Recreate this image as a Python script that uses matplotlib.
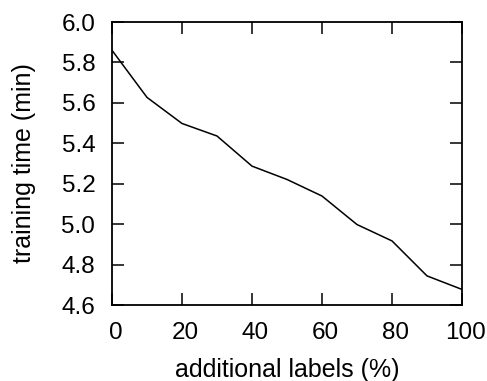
import matplotlib
matplotlib.use("Agg")
import matplotlib.pyplot as plt
from matplotlib.transforms import ScaledTranslation

# extra labels (%) vs. training time in minutes
additional_labels = [0, 10, 20, 30, 40, 50, 60, 70, 80, 90, 100]
training_time = [5.86, 5.627, 5.498, 5.436, 5.287, 5.221, 5.139, 4.998, 4.917, 4.744, 4.677]

x_ticks = [0, 20, 40, 60, 80, 100]
y_ticks = [4.6, 4.8, 5.0, 5.2, 5.4, 5.6, 5.8, 6.0]

plt.rcParams['font.family'] = ['Liberation Sans', 'DejaVu Sans']

fig = plt.figure(figsize=(4.87, 3.81), dpi=100)
ax = fig.add_axes([112 / 487, 1 - 305 / 381, 350 / 487, 283 / 381])

ax.plot(additional_labels, training_time, color='black', linewidth=1.1)

ax.set_xlim(0, 100)
ax.set_ylim(4.6, 6.0)
ax.set_xticks(x_ticks)
ax.set_yticks(y_ticks)
ax.set_yticklabels([f'{v:.1f}' for v in y_ticks])
ax.tick_params(direction='in', length=8.4, width=1.1, labelsize=17.5,
               top=True, right=True, pad=12)
for spine in ax.spines.values():
    spine.set_linewidth(1.3)

# x tick labels sit a few pixels right of their ticks in the original
shift = ScaledTranslation(3.5 / 100, 0, fig.dpi_scale_trans)
for lbl in ax.get_xticklabels():
    lbl.set_transform(lbl.get_transform() + shift)

ax.set_xlabel('additional labels (%)', fontsize=18)
ax.set_ylabel('training time (min)', fontsize=18)
ax.xaxis.label.set_va('baseline')
ax.xaxis.set_label_coords(0.5, -0.254)
ax.yaxis.set_label_coords(-0.217, 0.5)

fig.savefig('out.png', dpi=100)
